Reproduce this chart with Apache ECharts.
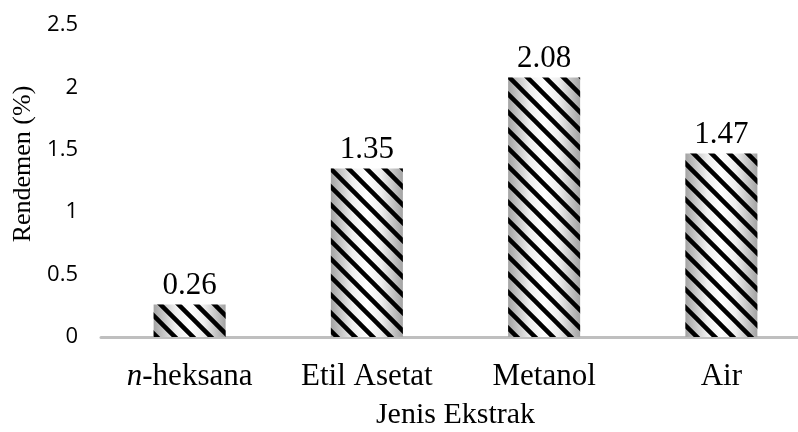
<!DOCTYPE html>
<html>
<head>
<meta charset="utf-8">
<script src="https://cdn.jsdelivr.net/npm/echarts@6/dist/echarts.min.js"></script>
<style>
  html, body { margin: 0; padding: 0; background: #ffffff; }
  #chart { width: 798px; height: 432px; }
</style>
</head>
<body>
<div id="chart"></div>
<script>
// Yield of each extract type
const categories = ['n-heksana', 'Etil Asetat', 'Metanol', 'Air'];
const rendemen = [0.26, 1.35, 2.08, 1.47];
const yTicks = [0, 0.5, 1, 1.5, 2, 2.5];

const SERIF = '"Liberation Serif", "Times New Roman", serif';
const SANS = '"Open Sans", "Liberation Sans", sans-serif';

// Tileable "\" diagonal stripes on a transparent background
function makeHatch(size, width) {
  const c = document.createElement('canvas');
  c.width = c.height = size;
  const g = c.getContext('2d');
  g.strokeStyle = '#000000';
  g.lineWidth = width;
  g.lineCap = 'square';
  g.beginPath();
  for (let k = -1; k <= 1; k++) {
    g.moveTo(k * size - 2, -2);
    g.lineTo(k * size + size + 2, size + 2);
  }
  g.stroke();
  return c;
}

const shade = {
  type: 'linear', x: 0, y: 0, x2: 1, y2: 0,
  colorStops: [
    { offset: 0, color: '#a3a3a3' },
    { offset: 0.3, color: '#eeeeee' },
    { offset: 0.5, color: '#ffffff' },
    { offset: 0.7, color: '#eeeeee' },
    { offset: 1, color: '#a3a3a3' }
  ]
};

const chart = echarts.init(document.getElementById('chart'), null, { renderer: 'canvas' });

chart.setOption({
  animation: false,
  backgroundColor: '#ffffff',
  grid: { left: 101, top: 25, bottom: 95, width: 709, outerBoundsMode: 'none', containLabel: false },
  xAxis: {
    type: 'category',
    data: categories,
    axisTick: { show: false },
    axisLine: { lineStyle: { color: '#bfbfbf', width: 3 } },
    axisLabel: {
      interval: 0,
      margin: 24,
      color: '#000000',
      fontFamily: SERIF,
      fontSize: 31,
      formatter: v => v.startsWith('n-') ? '{it|n}' + v.slice(1) : v,
      rich: { it: { fontStyle: 'italic', fontFamily: SERIF, fontSize: 31, color: '#000000' } }
    },
    name: 'Jenis Ekstrak',
    nameLocation: 'middle',
    nameGap: 63,
    nameTextStyle: { color: '#000000', fontFamily: SERIF, fontSize: 30 }
  },
  yAxis: {
    type: 'value',
    min: yTicks[0],
    max: yTicks[yTicks.length - 1],
    interval: yTicks[1] - yTicks[0],
    splitLine: { show: false },
    axisLine: { show: false },
    axisTick: { show: false },
    axisLabel: { margin: 23, color: '#000000', fontFamily: SANS, fontSize: 22 },
    name: 'Rendemen (%)',
    nameLocation: 'middle',
    nameGap: 62,
    nameRotate: 90,
    nameTextStyle: { color: '#000000', fontFamily: SERIF, fontSize: 26, padding: [0, 0, 0, 34] }
  },
  series: [
    {
      type: 'bar',
      data: rendemen,
      barWidth: 72,
      itemStyle: { color: shade },
      silent: true
    },
    {
      type: 'bar',
      data: rendemen,
      barWidth: 72,
      barGap: '-100%',
      itemStyle: { color: { image: makeHatch(18, 4.5), repeat: 'repeat' } },
      label: {
        show: true,
        position: 'top',
        distance: 3,
        color: '#000000',
        fontFamily: SERIF,
        fontSize: 31,
        formatter: p => p.value.toFixed(2)
      },
      silent: true
    }
  ]
});
</script>
</body>
</html>
